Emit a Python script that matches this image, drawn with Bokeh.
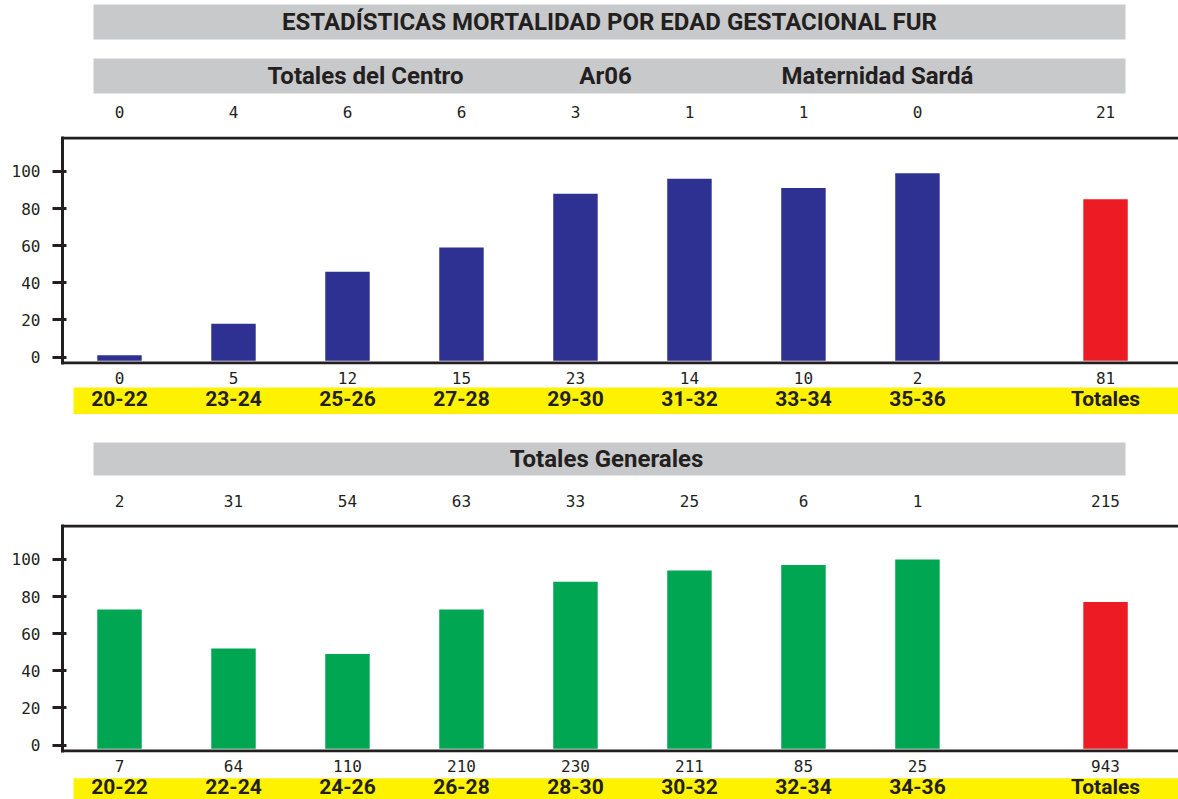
from bokeh.plotting import figure
from bokeh.models import Range1d, FixedTicker, BoxAnnotation, Span, Label, ColumnDataSource
from bokeh.layouts import column
from bokeh.embed import file_html
from bokeh.resources import INLINE
from bokeh.core.properties import value

# ---------------- data ----------------
TITLE = "ESTADÍSTICAS MORTALIDAD POR EDAD GESTACIONAL FUR"
TOP_SUBTITLES = ["Totales del Centro", "Ar06", "Maternidad Sardá"]
BOTTOM_SUBTITLE = "Totales Generales"
TOTAL_LABEL = "Totales"

top_cats = ["20-22", "23-24", "25-26", "27-28", "29-30", "31-32", "33-34", "35-36"]
top_pct = [1, 18, 46, 59, 88, 96, 91, 99]
top_total_pct = 85
top_counts_above = [0, 4, 6, 6, 3, 1, 1, 0]
top_total_above = 21
top_counts_below = [0, 5, 12, 15, 23, 14, 10, 2]
top_total_below = 81

bottom_cats = ["20-22", "22-24", "24-26", "26-28", "28-30", "30-32", "32-34", "34-36"]
bottom_pct = [73, 52, 49, 73, 88, 94, 97, 100]
bottom_total_pct = 77
bottom_counts_above = [2, 31, 54, 63, 33, 25, 6, 1]
bottom_total_above = 215
bottom_counts_below = [7, 64, 110, 210, 230, 211, 85, 25]
bottom_total_below = 943

y_ticks = [0, 20, 40, 60, 80, 100]

# ---------------- style ----------------
W = 1178
LEFT = 62
DARK = "#231F20"
GREY = "#C8C9CB"
YELLOW = "#FFF200"
BLUE = "#2E3192"
GREEN = "#00A651"
RED = "#ED1C24"
NUM_FONT = "DejaVu Sans Mono"
BOLD_FONT = "Roboto"
NUM_SIZE = "16px"
LINE_LO, LINE_HI = -3.2, 118      # frame lines (data units)
Y_LO, Y_HI = -4.0, 118.8          # visible y range
BASE = -2
BAR_W = 0.39
TOTAL_GAP = 1.65                  # distance from last category to "Totales"
X_PAD_L, X_PAD_R = 0.5, 0.64


def positions(cats):
    n = len(cats)
    return [float(i) for i in range(n)] + [n - 1 + TOTAL_GAP]


def make_range(cats):
    xs = positions(cats)
    return Range1d(xs[0] - X_PAD_L, xs[-1] + X_PAD_R), xs


def blank_fig(xr, height):
    p = figure(width=W, height=height, x_range=xr, y_range=Range1d(height, 0),
               output_backend="svg", toolbar_location=None,
               x_axis_location=None, y_axis_location=None,
               min_border_left=LEFT, min_border_right=0,
               min_border_top=0, min_border_bottom=0)
    p.outline_line_color = None
    p.grid.visible = False
    return p


def grey_bar(p, top, bottom):
    p.add_layout(BoxAnnotation(left=93, right=1125, left_units="canvas", right_units="canvas",
                               top=top, bottom=bottom, fill_color=GREY, fill_alpha=1,
                               line_color=None, level="underlay"))


def big_label(p, x, y, text, size="24px"):
    p.add_layout(Label(x=x, x_units="canvas", y=y, text=text, text_align="center",
                       text_baseline="middle", text_font=BOLD_FONT, text_font_style="bold",
                       text_font_size=size, text_color=DARK))


def count_row(p, xs, counts, y):
    src = ColumnDataSource(dict(x=xs, y=[y] * len(xs), t=[str(c) for c in counts]))
    p.text(x="x", y="y", text="t", source=src, text_align="center", text_baseline="middle",
           text_font=value(NUM_FONT), text_font_size=value(NUM_SIZE), text_color=DARK)


def chart_fig(xr, xs, pct, total_pct, color):
    p = figure(width=W, height=232, x_range=xr, y_range=Range1d(Y_LO, Y_HI),
               output_backend="svg", toolbar_location=None, x_axis_location=None,
               min_border_left=LEFT, min_border_right=0,
               min_border_top=1, min_border_bottom=3)
    p.outline_line_color = None
    p.grid.visible = False
    ax = p.yaxis[0]
    ax.ticker = FixedTicker(ticks=y_ticks)
    ax.axis_line_width = 3
    ax.axis_line_color = DARK
    ax.major_tick_line_width = 3
    ax.major_tick_line_color = DARK
    ax.major_tick_out = 10
    ax.major_tick_in = 4
    ax.minor_tick_line_color = None
    ax.major_label_standoff = 12
    ax.major_label_text_font = NUM_FONT
    ax.major_label_text_font_size = NUM_SIZE
    ax.major_label_text_color = DARK
    for loc in (LINE_HI, LINE_LO):
        p.add_layout(Span(location=loc, dimension="width", line_width=3, line_color=DARK))
    src = ColumnDataSource(dict(x=xs, top=list(pct) + [total_pct],
                                c=[color] * len(pct) + [RED]))
    p.vbar(x="x", top="top", bottom=BASE, width=BAR_W, source=src,
           fill_color="c", line_color=None)
    return p


def footer_fig(xr, xs, cats, counts, height, val_y, band_top, label_y):
    p = blank_fig(xr, height)
    p.add_layout(BoxAnnotation(left=73, right=W, left_units="canvas", right_units="canvas",
                               top=band_top, bottom=height, fill_color=YELLOW, fill_alpha=1,
                               line_color=None, level="underlay"))
    count_row(p, xs, counts, val_y)
    src = ColumnDataSource(dict(x=xs, y=[label_y] * len(xs), t=list(cats) + [TOTAL_LABEL]))
    p.text(x="x", y="y", text="t", source=src, text_align="center", text_baseline="middle",
           text_font=value(BOLD_FONT), text_font_style="bold",
           text_font_size=value("21px"), text_color=DARK)
    return p


# ---------------- top section ----------------
xr1, x1 = make_range(top_cats)
h1 = blank_fig(xr1, 135)
grey_bar(h1, 4, 39)
big_label(h1, 609, 21.5, TITLE)
grey_bar(h1, 58, 93)
for x, t in zip([365, 605, 877], TOP_SUBTITLES):
    big_label(h1, x, 75.5, t)
count_row(h1, x1, top_counts_above + [top_total_above], 111)
c1 = chart_fig(xr1, x1, top_pct, top_total_pct, BLUE)
ft1 = footer_fig(xr1, x1, top_cats, top_counts_below + [top_total_below], 47, 10, 20, 31)

# ---------------- bottom section ----------------
xr2, x2 = make_range(bottom_cats)
h2 = blank_fig(xr2, 109)
grey_bar(h2, 28, 61)
big_label(h2, 606, 44.5, BOTTOM_SUBTITLE)
count_row(h2, x2, bottom_counts_above + [bottom_total_above], 86)
c2 = chart_fig(xr2, x2, bottom_pct, bottom_total_pct, GREEN)
ft2 = footer_fig(xr2, x2, bottom_cats, bottom_counts_below + [bottom_total_below], 44, 10, 22.7, 31)

page = column(h1, c1, ft1, h2, c2, ft2, spacing=0)
open("out.html", "w").write(file_html(page, INLINE))
